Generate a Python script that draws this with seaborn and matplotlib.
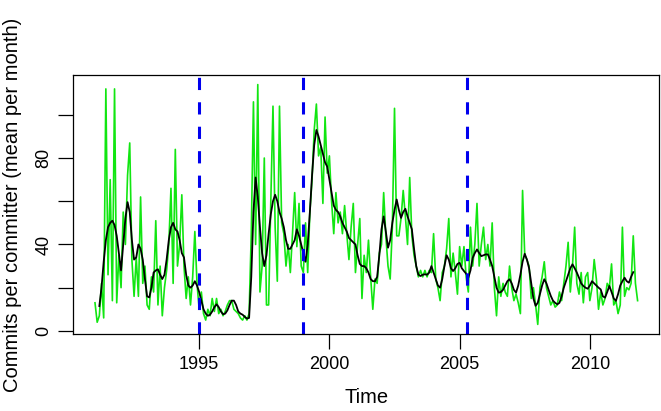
import numpy as np
import matplotlib
matplotlib.use("Agg")
import matplotlib.pyplot as plt
import seaborn as sns
import pandas as pd

# Monthly series, starting January 1991
start_year = 1991
green_vals = [
    13, 4, 7, 22, 6, 112, 26, 70, 14, 112, 13, 35,      # 1991
    20, 55, 40, 72, 87, 33, 16, 34, 16, 62, 22, 30,     # 1992
    12, 10, 25, 18, 51, 12, 30, 7, 20, 28, 40, 66,      # 1993
    22, 84, 30, 40, 63, 30, 15, 25, 12, 25, 46, 22,     # 1994
    10, 18, 8, 5, 10, 7, 15, 9, 15, 8, 10, 7,           # 1995
    9, 12, 14, 14, 10, 9, 8, 6, 5, 7, 5, 8,             # 1996
    45, 106, 40, 114, 18, 30, 80, 12, 12, 60, 104, 48,  # 1997
    23, 104, 50, 45, 30, 40, 27, 45, 64, 39, 59, 30,    # 1998
    27, 50, 27, 55, 70, 93, 105, 81, 85, 59, 99, 73,    # 1999
    81, 60, 45, 64, 50, 55, 45, 58, 45, 33, 48, 59,     # 2000
    27, 40, 52, 15, 35, 27, 42, 25, 10, 24, 22, 36,     # 2001
    40, 64, 44, 30, 24, 48, 103, 44, 44, 52, 65, 53,    # 2002
    40, 71, 44, 35, 30, 25, 28, 25, 28, 25, 28, 27,     # 2003
    45, 24, 20, 14, 27, 30, 38, 52, 25, 36, 27, 17,     # 2004
    39, 30, 39, 25, 18, 48, 30, 40, 59, 30, 40, 48,     # 2005
    33, 40, 30, 50, 20, 7, 25, 16, 22, 18, 16, 30,      # 2006
    20, 14, 17, 13, 8, 65, 35, 33, 30, 15, 20, 12,      # 2007
    3, 20, 25, 32, 20, 16, 12, 14, 11, 12, 18, 14,      # 2008
    22, 30, 41, 18, 30, 48, 22, 17, 27, 13, 25, 27,     # 2009
    14, 20, 33, 24, 10, 18, 12, 15, 22, 20, 31, 12,     # 2010
    14, 8, 12, 48, 16, 20, 19, 22, 44, 22, 14,          # 2011
]

# smoothed series, begins at the 3rd month
smooth_offset = 2
smooth_vals = [
    11.5, 20, 32, 42, 48, 50, 51, 49, 44, 36,
    28, 40, 52, 59.6, 55, 42, 33, 34, 40, 38, 33, 24,
    16, 15.5, 20, 27, 28, 28.5, 26, 24, 26, 33, 42, 48,
    50, 47, 46, 42, 36, 34, 26, 21, 20, 21, 23, 21,
    18, 14, 10, 8, 7, 7.5, 9, 11, 12.3, 11, 9, 7.7,
    8, 9.5, 12, 14, 14, 12, 9, 8, 7.5, 6.5, 5.7, 6,
    25, 55, 71, 62, 48, 36, 30, 35, 45, 54, 60, 63,
    60, 55, 52, 48, 42, 38, 38, 40, 42, 47, 44, 40,
    36, 32, 40, 55, 72, 86, 93, 90, 86, 82, 78, 76,
    70, 64, 58, 56, 55, 53, 50, 48, 46, 43, 42, 41,
    40, 35, 31, 30, 30, 29, 27, 24, 23, 23, 25, 35,
    47, 53, 46, 38.5, 42, 50, 56, 60.8, 56, 52.3, 55, 56.5,
    53, 50, 47, 38, 30, 26, 25.4, 26, 26.2, 26, 27, 30,
    27, 24, 21, 20, 24, 30, 35, 33, 29, 27.7, 29, 31,
    31.5, 29, 27.7, 26.5, 24.6, 28, 33.8, 36, 37.7, 36, 34.6, 35,
    35.4, 35.4, 33, 30, 25, 20, 17.7, 18, 19, 21, 23, 23.9,
    22, 19, 17.7, 21, 26, 32, 35.7, 33, 29, 22, 15, 11.6,
    13, 17, 21, 23.9, 22, 19, 16.2, 14, 13, 12.3, 13, 16,
    20, 23, 26, 29, 30.8, 29, 27, 24.6, 22, 20.8, 20, 19.5,
    21, 23, 22, 21, 20, 19.2, 16, 15.4, 18, 20.8, 18, 15,
    13.9, 17, 21, 23, 24.6, 23, 22.3, 25, 27.2,
]

event_years = [1995.0, 1999.0, 2005.3]
x_ticks = [1995, 2000, 2005, 2010]
y_ticks = [0, 20, 40, 60, 80, 100]
y_tick_labels = ["0", "", "40", "", "80", ""]

green_df = pd.DataFrame({
    "time": start_year + np.arange(len(green_vals)) / 12,
    "value": green_vals,
})
smooth_df = pd.DataFrame({
    "time": start_year + (smooth_offset + np.arange(len(smooth_vals))) / 12,
    "value": smooth_vals,
})

plt.rcParams["font.family"] = ["Liberation Sans", "DejaVu Sans"]

fig = plt.figure(figsize=(6.61, 4.11), dpi=100)
W, H = 661, 411
ax = fig.add_axes([73.3 / W, 1 - 334 / H, (659.3 - 73.3) / W, (334 - 75) / H])

sns.lineplot(data=green_df, x="time", y="value", ax=ax, color="#11e611", lw=1.2)
sns.lineplot(data=smooth_df, x="time", y="value", ax=ax, color="black", lw=1.3)
for yr in event_years:
    ax.axvline(yr, color="#0000ee", lw=2.2, dashes=(4, 4))

# R-style 4% padding
t = green_df["time"]
v = green_df["value"]
xr = t.max() - t.min()
yr_ = v.max() - v.min()
ax.set_xlim(t.min() - 0.04 * xr, t.max() + 0.04 * xr)
ax.set_ylim(v.min() - 0.04 * yr_, v.max() + 0.04 * yr_)

ax.set_xticks(x_ticks)
ax.set_yticks(y_ticks)
ax.set_yticklabels(y_tick_labels, rotation=90, va="center")
ax.tick_params(axis="both", direction="out", length=11, width=0.9,
               labelsize=13, color="black")
ax.tick_params(axis="x", pad=5)
ax.tick_params(axis="y", pad=4)
for s in ax.spines.values():
    s.set_linewidth(0.9)
    s.set_color("black")

ax.set_xlabel("Time", fontsize=14.5)
ax.set_ylabel("Commits per committer (mean per month)", fontsize=14.5)
ax.xaxis.set_label_coords(0.5, -0.21)
ax.yaxis.set_label_coords(-0.088, 0.5)

fig.savefig("out.png", dpi=100)
